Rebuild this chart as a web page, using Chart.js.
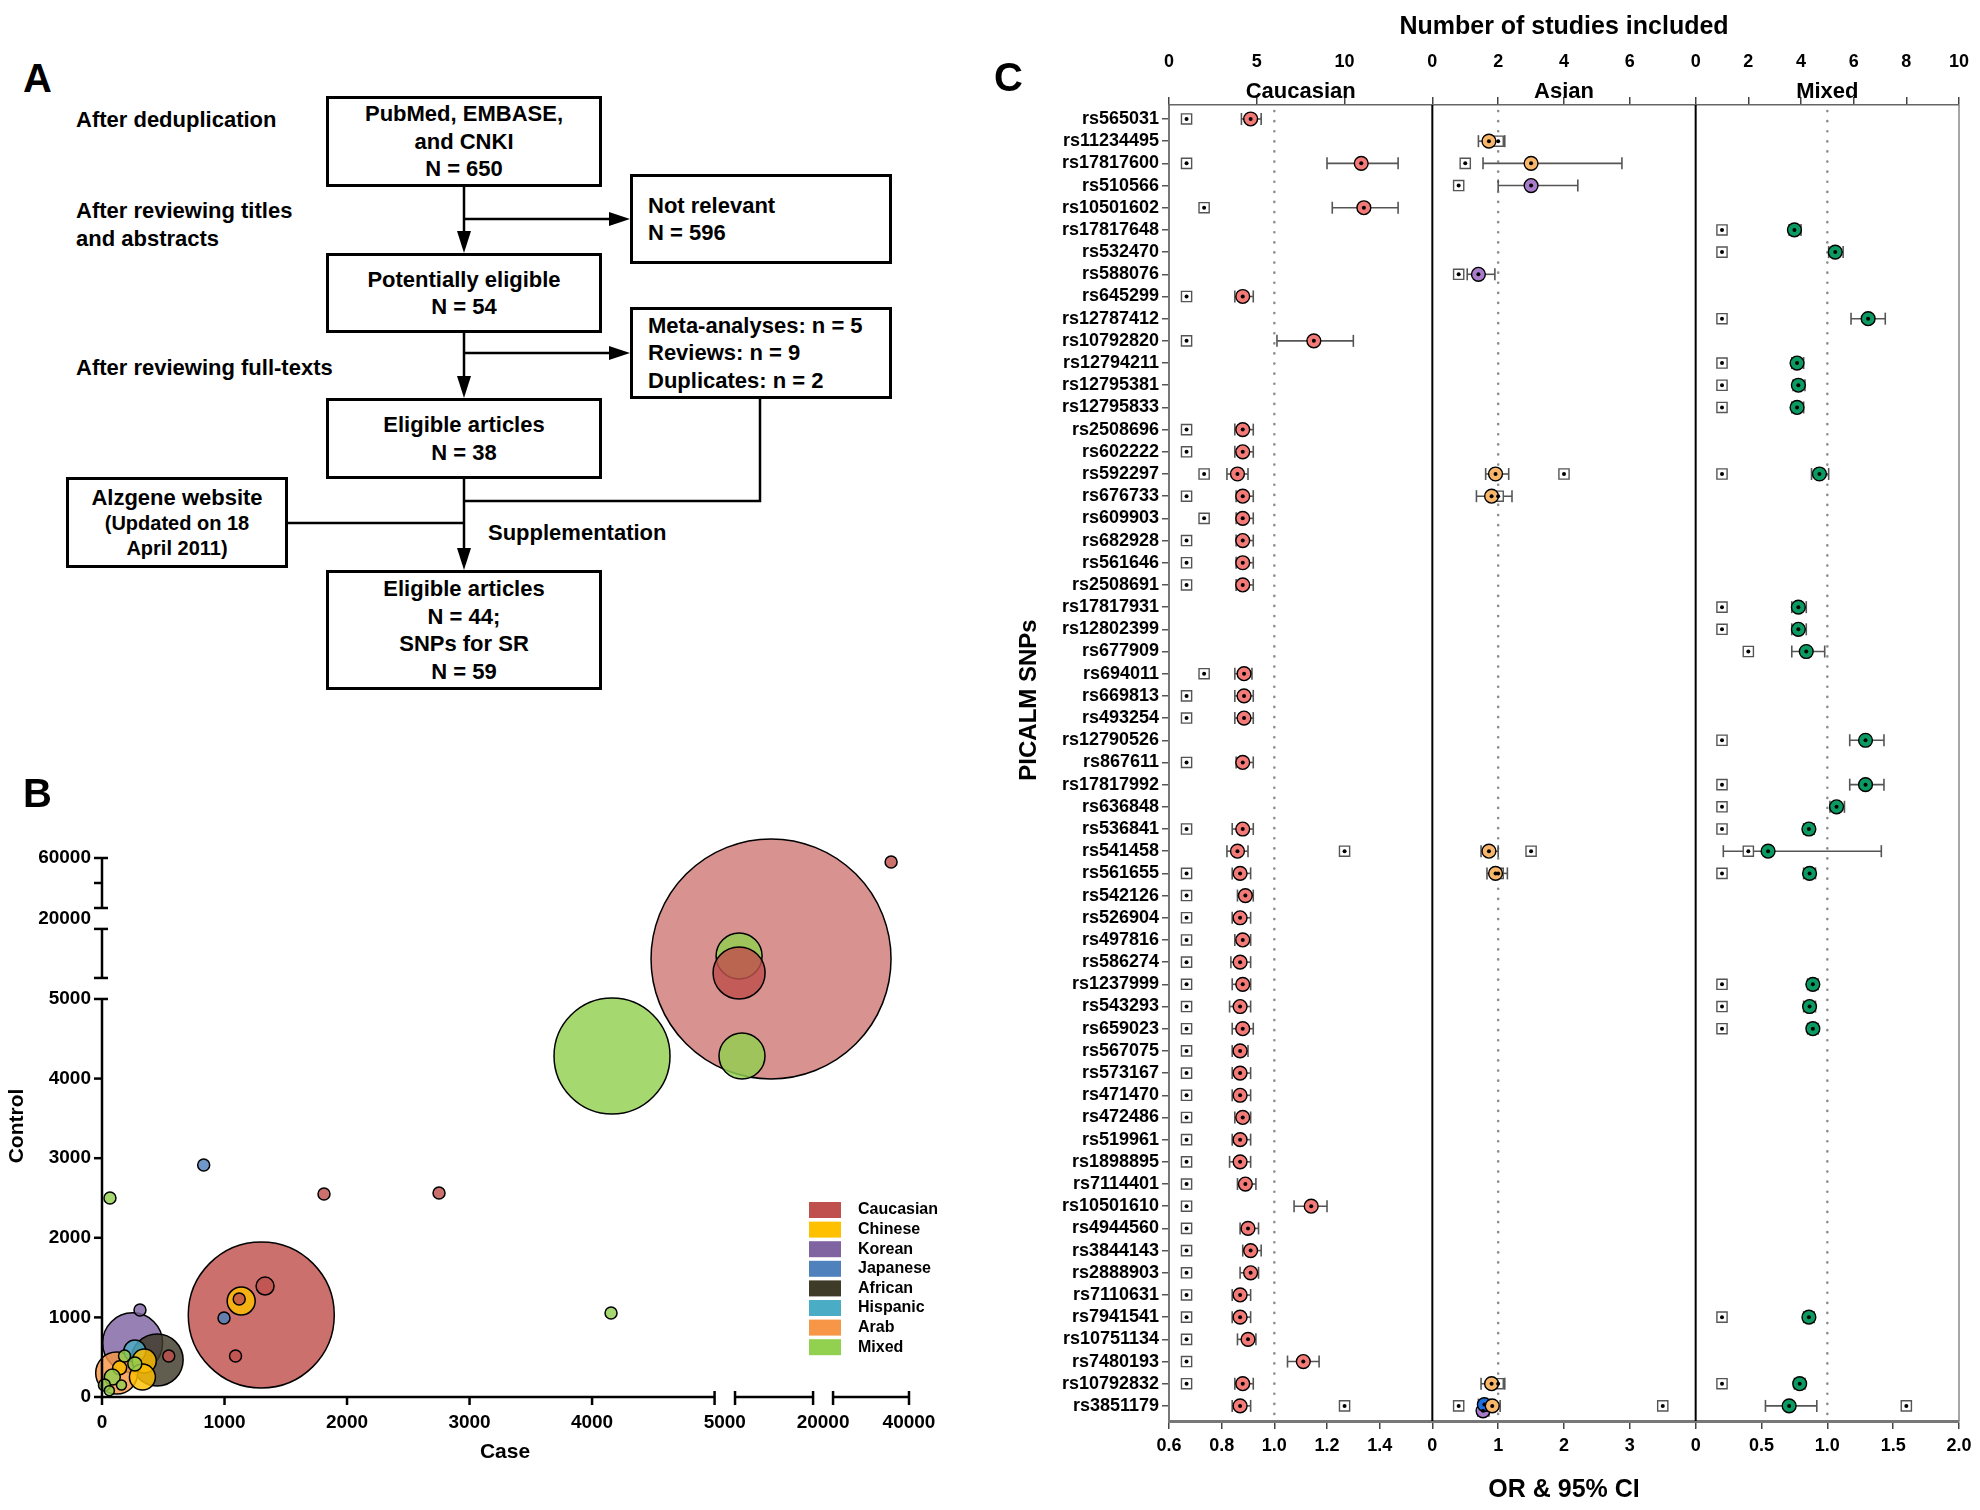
<!DOCTYPE html>
<html>
<head>
<meta charset="utf-8">
<title>PICALM SNPs</title>
<script src="https://cdn.jsdelivr.net/npm/chart.js@4.4.1/dist/chart.umd.min.js"></script>
<style>
  html, body { margin: 0; padding: 0; background: #fff; }
  body { position: relative; width: 1980px; height: 1510px; overflow: hidden;
         font-family: "Liberation Sans", Arial, sans-serif; font-weight: bold; color: #000; }
  .letter { position: absolute; font-size: 40px; line-height: 40px; z-index: 3; }
  .box { position: absolute; box-sizing: border-box; border: 3px solid #000; display: flex;
         flex-direction: column; justify-content: center; font-size: 22px; line-height: 27.5px; white-space: nowrap; }
  .box.c { align-items: center; text-align: center; }
  .box.l { padding-left: 15px; }
  .small { font-size: 20px; line-height: 25px; }
  .note { position: absolute; font-size: 22px; line-height: 27.5px; white-space: nowrap; }
  svg.flow { position: absolute; left: 0; top: 0; }
  canvas { position: absolute; }
  #chartB { left: 0; top: 760px; }
  #chartC { left: 980px; top: 0; }
</style>
</head>
<body>

<div class="letter" style="left:23px;top:58px">A</div>
<div class="letter" style="left:23px;top:773px">B</div>
<div class="letter" style="left:994px;top:57px">C</div>

<!-- panel A: flow of study selection -->
<svg class="flow" width="960" height="720">
  <g stroke="#000" stroke-width="2.5" fill="none">
    <line x1="464" y1="187" x2="464" y2="236"/>
    <line x1="464" y1="219" x2="612" y2="219"/>
    <line x1="464" y1="333" x2="464" y2="381"/>
    <line x1="464" y1="353" x2="612" y2="353"/>
    <line x1="464" y1="479" x2="464" y2="553"/>
    <polyline points="760,399 760,501 464,501"/>
    <line x1="288" y1="523" x2="464" y2="523"/>
  </g>
  <g fill="#000">
    <polygon points="464,253 457,231 471,231"/>
    <polygon points="630,219 609,212 609,226"/>
    <polygon points="464,398 457,376 471,376"/>
    <polygon points="630,353 609,346 609,360"/>
    <polygon points="464,570 457,548 471,548"/>
  </g>
</svg>

<div class="note" style="left:76px;top:106px">After deduplication</div>
<div class="note" style="left:76px;top:197px">After reviewing titles<br>and abstracts</div>
<div class="note" style="left:76px;top:354px">After reviewing full-texts</div>
<div class="note" style="left:488px;top:519px">Supplementation</div>

<div class="box c" style="left:326px;top:96px;width:276px;height:91px">
  <div>PubMed, EMBASE,</div><div>and CNKI</div><div>N = 650</div>
</div>
<div class="box l" style="left:630px;top:174px;width:262px;height:90px">
  <div>Not relevant</div><div>N = 596</div>
</div>
<div class="box c" style="left:326px;top:253px;width:276px;height:80px">
  <div>Potentially eligible</div><div>N = 54</div>
</div>
<div class="box l" style="left:630px;top:307px;width:262px;height:92px">
  <div>Meta-analyses: n = 5</div><div>Reviews: n = 9</div><div>Duplicates: n = 2</div>
</div>
<div class="box c" style="left:326px;top:398px;width:276px;height:81px">
  <div>Eligible articles</div><div>N = 38</div>
</div>
<div class="box c" style="left:66px;top:477px;width:222px;height:91px">
  <div>Alzgene website</div><div class="small">(Updated on 18</div><div class="small">April 2011)</div>
</div>
<div class="box c" style="left:326px;top:570px;width:276px;height:120px">
  <div>Eligible articles</div><div>N = 44;</div><div>SNPs for SR</div><div>N = 59</div>
</div>

<canvas id="chartB" width="960" height="750"></canvas>
<canvas id="chartC" width="1000" height="1510"></canvas>

<script>
// ---------- panel B: case / control sizes by ethnicity ----------
const B_GROUPS = ['Caucasian', 'Chinese', 'Korean', 'Japanese', 'African', 'Hispanic', 'Arab', 'Mixed'];
// drawn back to front
const B_GROUP = ['Caucasian', 'Mixed', 'Caucasian', 'Mixed', 'Caucasian', 'Mixed', 'Korean', 'African',
  'Arab', 'Hispanic', 'Chinese', 'Chinese', 'Chinese', 'Chinese', 'Caucasian', 'Caucasian',
  'Caucasian', 'Japanese', 'Japanese', 'Mixed', 'Caucasian', 'Caucasian', 'Mixed', 'Korean',
  'Caucasian', 'Mixed', 'Mixed', 'Mixed', 'Mixed', 'Mixed', 'Mixed', 'Caucasian'];
const B_CASE = [11920, 4163, 1300, 5780, 5780, 6340, 250, 450,
  120, 268, 345, 330, 144, 1136, 1120, 1331,
  1090, 996, 830, 65, 1812, 2751, 4155, 310,
  545, 184, 268, 84, 20, 159, 60, 35290];
const B_CONTROL = [10820, 4284, 1030, 11720, 6530, 4284, 680, 465,
  300, 578, 452, 250, 366, 1206, 1230, 1394,
  515, 992, 2915, 2500, 2550, 2563, 1055, 1093,
  515, 515, 415, 250, 150, 150, 80, 56800];
const B_RADIUS = [120, 58, 73, 23, 26, 23, 30, 26,
  21, 11, 12, 13, 7, 14, 6, 9,
  6, 6, 6, 6, 6, 6, 6, 6,
  6, 6, 7, 8, 6, 5, 5, 6];
const B_X_TICKS = [0, 1000, 2000, 3000, 4000, 5000, 20000, 40000];
const B_Y_TICKS = [0, 1000, 2000, 3000, 4000, 5000, 20000, 40000, 60000];
const B_Y_LABELS = ['0', '1000', '2000', '3000', '4000', '5000', '20000', '', '60000'];

// ---------- panel C: PICALM SNPs ----------
const SNPS = ['rs565031', 'rs11234495', 'rs17817600', 'rs510566', 'rs10501602', 'rs17817648', 'rs532470',
  'rs588076', 'rs645299', 'rs12787412', 'rs10792820', 'rs12794211', 'rs12795381', 'rs12795833',
  'rs2508696', 'rs602222', 'rs592297', 'rs676733', 'rs609903', 'rs682928', 'rs561646', 'rs2508691',
  'rs17817931', 'rs12802399', 'rs677909', 'rs694011', 'rs669813', 'rs493254', 'rs12790526',
  'rs867611', 'rs17817992', 'rs636848', 'rs536841', 'rs541458', 'rs561655', 'rs542126', 'rs526904',
  'rs497816', 'rs586274', 'rs1237999', 'rs543293', 'rs659023', 'rs567075', 'rs573167', 'rs471470',
  'rs472486', 'rs519961', 'rs1898895', 'rs7114401', 'rs10501610', 'rs4944560', 'rs3844143',
  'rs2888903', 'rs7110631', 'rs7941541', 'rs10751134', 'rs7480193', 'rs10792832', 'rs3851179'];

// Caucasian (one value per SNP, null = not studied)
const CAU_OR = [0.91, null, 1.33, null, 1.34, null, null, null, 0.88, null, 1.15, null, null, null,
  0.88, 0.88, 0.86, 0.88, 0.88, 0.88, 0.88, 0.88, null, null, null, 0.885, 0.885, 0.885, null,
  0.88, null, null, 0.88, 0.86, 0.87, 0.89, 0.87, 0.88, 0.87, 0.88, 0.87, 0.88, 0.87, 0.87, 0.87,
  0.88, 0.87, 0.87, 0.89, 1.14, 0.90, 0.91, 0.91, 0.87, 0.87, 0.90, 1.11, 0.88, 0.87];
const CAU_LO = [0.875, null, 1.20, null, 1.22, null, null, null, 0.85, null, 1.01, null, null, null,
  0.85, 0.85, 0.82, 0.855, 0.855, 0.855, 0.855, 0.855, null, null, null, 0.85, 0.85, 0.85, null,
  0.855, null, null, 0.84, 0.82, 0.84, 0.86, 0.84, 0.85, 0.835, 0.84, 0.83, 0.84, 0.84, 0.84, 0.84,
  0.85, 0.84, 0.83, 0.86, 1.075, 0.87, 0.88, 0.87, 0.84, 0.84, 0.86, 1.05, 0.85, 0.84];
const CAU_HI = [0.95, null, 1.47, null, 1.47, null, null, null, 0.92, null, 1.30, null, null, null,
  0.92, 0.92, 0.90, 0.92, 0.92, 0.92, 0.92, 0.92, null, null, null, 0.915, 0.92, 0.92, null,
  0.92, null, null, 0.92, 0.90, 0.91, 0.92, 0.91, 0.91, 0.91, 0.91, 0.91, 0.92, 0.90, 0.91, 0.91,
  0.91, 0.91, 0.91, 0.93, 1.20, 0.94, 0.95, 0.94, 0.91, 0.91, 0.93, 1.17, 0.92, 0.91];
const CAU_N = [1, null, 1, null, 2, null, null, null, 1, null, 1, null, null, null,
  1, 1, 2, 1, 2, 1, 1, 1, null, null, null, 2, 1, 1, null,
  1, null, null, 1, 10, 1, 1, 1, 1, 1, 1, 1, 1, 1, 1, 1,
  1, 1, 1, 1, 1, 1, 1, 1, 1, 1, 1, 1, 1, 10];

// Mixed
const MIX_OR = [null, null, null, null, null, 0.75, 1.06, null, null, 1.31, null, 0.77, 0.78, 0.77,
  null, null, 0.94, null, null, null, null, null, 0.78, 0.78, 0.84, null, null, null, 1.29,
  null, 1.29, 1.07, 0.86, 0.55, 0.865, null, null, null, null, 0.89, 0.865, 0.89, null, null, null,
  null, null, null, null, null, null, null, null, null, 0.86, null, null, 0.79, 0.71];
const MIX_LO = [null, null, null, null, null, 0.71, 1.01, null, null, 1.18, null, 0.73, 0.74, 0.73,
  null, null, 0.88, null, null, null, null, null, 0.73, 0.73, 0.73, null, null, null, 1.17,
  null, 1.17, 1.02, 0.82, 0.21, 0.82, null, null, null, null, 0.85, 0.82, 0.85, null, null, null,
  null, null, null, null, null, null, null, null, null, 0.82, null, null, 0.75, 0.53];
const MIX_HI = [null, null, null, null, null, 0.80, 1.12, null, null, 1.44, null, 0.82, 0.83, 0.82,
  null, null, 1.01, null, null, null, null, null, 0.84, 0.84, 0.98, null, null, null, 1.43,
  null, 1.43, 1.13, 0.90, 1.41, 0.91, null, null, null, null, 0.93, 0.91, 0.93, null, null, null,
  null, null, null, null, null, null, null, null, null, 0.90, null, null, 0.83, 0.92];
const MIX_N = [null, null, null, null, null, 1, 1, null, null, 1, null, 1, 1, 1,
  null, null, 1, null, null, null, null, null, 1, 1, 2, null, null, null, 1,
  null, 1, 1, 1, 2, 1, null, null, null, null, 1, 1, 1, null, null, null,
  null, null, null, null, null, null, null, null, null, 1, null, null, 1, 8];

// Asian (listed per estimate, several groups can share a SNP)
const ASN_SNP = ['rs11234495', 'rs17817600', 'rs510566', 'rs588076', 'rs592297', 'rs676733',
  'rs541458', 'rs561655', 'rs10792832', 'rs3851179', 'rs3851179', 'rs3851179'];
const ASN_GROUP = ['Chinese', 'Chinese', 'Korean', 'Korean', 'Chinese', 'Chinese',
  'Chinese', 'Chinese', 'Chinese', 'Korean', 'Japanese', 'Chinese'];
const ASN_OR = [0.86, 1.50, 1.50, 0.70, 0.96, 0.90, 0.86, 0.96, 0.90, 0.77, 0.79, 0.91];
const ASN_LO = [0.70, 0.77, 1.00, 0.53, 0.81, 0.67, 0.74, 0.83, 0.74, 0.69, 0.70, 0.80];
const ASN_HI = [1.10, 2.88, 2.21, 0.95, 1.16, 1.21, 1.00, 1.14, 1.10, 0.86, 0.88, 1.03];
const ASN_N_SNP = ['rs11234495', 'rs17817600', 'rs510566', 'rs588076', 'rs592297', 'rs676733',
  'rs541458', 'rs561655', 'rs10792832', 'rs3851179', 'rs3851179'];
const ASN_N = [2, 1, 0.8, 0.8, 4, 2, 3, 2, 2, 0.8, 7];

// axis ticks of panel C
const CAU_OR_TICKS = [0.6, 0.8, 1.0, 1.2, 1.4];
const ASN_OR_TICKS = [0, 1, 2, 3];
const MIX_OR_TICKS = [0, 0.5, 1.0, 1.5, 2.0];
const MIX_OR_LABELS = ['0', '0.5', '1.0', '1.5', '2.0'];
const CAU_N_TICKS = [0, 5, 10];
const ASN_N_TICKS = [0, 2, 4, 6];
const MIX_N_TICKS = [0, 2, 4, 6, 8, 10];

// ---------- styles / layout ----------
const FONT = '"Liberation Sans", Arial, sans-serif';
Chart.defaults.font.family = FONT;
Chart.defaults.font.weight = 'bold';
Chart.defaults.color = '#000';

const B_COLORS = {
  Caucasian: '#C0504D', Chinese: '#FFC000', Korean: '#8064A2', Japanese: '#4F81BD',
  African: '#3E3B28', Hispanic: '#4BACC6', Arab: '#F79646', Mixed: '#92D050'
};
const ASN_COLORS = { Chinese: '#F8B66B', Korean: '#A97CCB', Japanese: '#1E6FE0' };
const ASN_DODGE = { Chinese: 0, Korean: 0.22, Japanese: -0.06 };

function withAlpha(hex, a) {
  const n = parseInt(hex.slice(1), 16);
  return `rgba(${n >> 16},${(n >> 8) & 255},${n & 255},${a})`;
}

// broken axes of panel B: segment start and length in axis units
const X_BREAKS = [0, 5000, 20000, 40000];
const X_SEG = [[0, 5], [5.167, 0.637], [5.967, 0.62]];
const Y_BREAKS = [0, 5000, 20000, 60000];
const Y_SEG = [[0, 5], [5.264, 0.616], [6.143, 0.628]];

function makeBroken(breaks, seg) {
  return v => {
    for (let k = 0; k < seg.length; k++) {
      const lo = breaks[k], hi = breaks[k + 1];
      if (v <= hi || k === seg.length - 1) return seg[k][0] + (v - lo) / (hi - lo) * seg[k][1];
    }
  };
}
const bx = makeBroken(X_BREAKS, X_SEG);
const by = makeBroken(Y_BREAKS, Y_SEG);

function labelPos(v, breaks, seg, gapLabels) {
  const k = breaks.indexOf(v);
  if (gapLabels.includes(v) && k > 0 && k < seg.length) {
    return (seg[k - 1][0] + seg[k - 1][1] + seg[k][0]) / 2;
  }
  return makeBroken(breaks, seg)(v);
}

function line(ctx, x1, y1, x2, y2) {
  ctx.beginPath(); ctx.moveTo(x1, y1); ctx.lineTo(x2, y2); ctx.stroke();
}

// fixed axis boxes, no automatic label padding
const fixH = h => s => { s.height = h; s.paddingLeft = 0; s.paddingRight = 0; };
const fixW = w => s => { s.width = w; s.paddingTop = 0; s.paddingBottom = 0; };

const bAxes = {
  id: 'bAxes',
  afterDatasetsDraw(chart) {
    const { ctx, chartArea: a, scales: { x, y } } = chart;
    ctx.save();
    ctx.strokeStyle = '#000';
    ctx.lineWidth = 2.5;
    X_SEG.forEach(([s0, len], k) => {
      const p0 = x.getPixelForValue(s0), p1 = x.getPixelForValue(s0 + len);
      line(ctx, p0, a.bottom, p1, a.bottom);
      if (k === 0) line(ctx, p0, a.bottom, p0, a.bottom + 8);
      else line(ctx, p0, a.bottom - 6, p0, a.bottom + 8);
      line(ctx, p1, a.bottom - 6, p1, a.bottom + 8);
      B_X_TICKS.forEach(v => {
        if (v > X_BREAKS[k] && v < X_BREAKS[k + 1]) {
          const px = x.getPixelForValue(bx(v));
          line(ctx, px, a.bottom, px, a.bottom + 8);
        }
      });
    });
    Y_SEG.forEach(([s0, len], k) => {
      const p0 = y.getPixelForValue(s0), p1 = y.getPixelForValue(s0 + len);
      line(ctx, a.left, p0, a.left, p1);
      if (k === 0) line(ctx, a.left - 8, p0, a.left, p0);
      else line(ctx, a.left - 8, p0, a.left + 6, p0);
      line(ctx, a.left - 8, p1, a.left + 6, p1);
      B_Y_TICKS.forEach(v => {
        if (v > Y_BREAKS[k] && v < Y_BREAKS[k + 1]) {
          const py = y.getPixelForValue(by(v));
          line(ctx, a.left - 8, py, a.left, py);
        }
      });
    });
    ctx.restore();
  },
  afterDraw(chart) {
    const { ctx } = chart;
    ctx.save();
    ctx.fillStyle = '#000';
    ctx.textAlign = 'center';
    ctx.textBaseline = 'middle';
    ctx.font = `bold 21px ${FONT}`;
    ctx.fillText('Case', 505, 692);
    ctx.translate(17, 366);
    ctx.rotate(-Math.PI / 2);
    ctx.fillText('Control', 0, 0);
    ctx.restore();

    ctx.save();
    ctx.font = `bold 16px ${FONT}`;
    ctx.textBaseline = 'middle';
    B_GROUPS.forEach((g, k) => {
      const yy = 450 + k * 19.6;
      ctx.fillStyle = B_COLORS[g];
      ctx.fillRect(809, yy - 8, 32, 16);
      ctx.fillStyle = '#000';
      ctx.fillText(g, 858, yy);
    });
    ctx.restore();
  }
};

new Chart(document.getElementById('chartB'), {
  type: 'bubble',
  data: {
    datasets: [{
      data: B_CASE.map((c, i) => ({ x: bx(c), y: by(B_CONTROL[i]), r: B_RADIUS[i] })),
      backgroundColor: B_GROUP.map((g, i) => withAlpha(B_COLORS[g], B_RADIUS[i] >= 100 ? 0.62 : 0.82)),
      borderColor: '#000',
      borderWidth: 1.5,
      clip: false
    }]
  },
  options: {
    responsive: false,
    animation: false,
    layout: { autoPadding: false, padding: { top: 98, right: 51, left: 0, bottom: 0 } },
    plugins: { legend: { display: false }, tooltip: { enabled: false } },
    scales: {
      x: {
        type: 'linear', min: 0, max: X_SEG[2][0] + X_SEG[2][1],
        afterBuildTicks: s => { s.ticks = B_X_TICKS.map(v => ({ value: labelPos(v, X_BREAKS, X_SEG, [5000, 20000]) })); },
        afterFit: fixH(113),
        ticks: { autoSkip: false, maxRotation: 0, padding: 14, font: { size: 19, weight: 'bold' },
                 callback: (v, i) => String(B_X_TICKS[i]) },
        grid: { display: false, drawTicks: false },
        border: { display: false }
      },
      y: {
        type: 'linear', min: 0, max: Y_SEG[2][0] + Y_SEG[2][1],
        afterBuildTicks: s => { s.ticks = B_Y_TICKS.map(v => ({ value: labelPos(v, Y_BREAKS, Y_SEG, [20000]) })); },
        afterFit: fixW(102),
        ticks: { autoSkip: false, padding: 11, font: { size: 19, weight: 'bold' },
                 callback: (v, i) => B_Y_LABELS[i] },
        grid: { display: false, drawTicks: false },
        border: { display: false }
      }
    }
  },
  plugins: [bAxes]
});

// ---------- panel C ----------
const asnRow = k => {
  const s = ASN_SNP[k];
  const multi = ASN_SNP.filter(t => t === s).length > 1;
  return SNPS.indexOf(s) + (multi ? ASN_DODGE[ASN_GROUP[k]] : 0);
};

const rowsOf = vals => vals.map((v, i) => (v == null ? null : { x: v, y: i })).filter(Boolean);

const whiskers = [];
SNPS.forEach((s, i) => {
  if (CAU_OR[i] != null) whiskers.push({ axis: 'xCau', lo: CAU_LO[i], hi: CAU_HI[i], row: i });
  if (MIX_OR[i] != null) whiskers.push({ axis: 'xMix', lo: MIX_LO[i], hi: MIX_HI[i], row: i });
});
ASN_SNP.forEach((s, k) => whiskers.push({ axis: 'xAsn', lo: ASN_LO[k], hi: ASN_HI[k], row: asnRow(k) }));

const forest = {
  id: 'forest',
  beforeDatasetsDraw(chart) {
    const { ctx, chartArea: a, scales } = chart;
    ctx.save();
    ctx.strokeStyle = '#8d8d8d';
    ctx.lineWidth = 2.6;
    ctx.lineCap = 'round';
    ctx.setLineDash([0.1, 10]);
    ['xCau', 'xAsn', 'xMix'].forEach(id => {
      const x = scales[id].getPixelForValue(1);
      line(ctx, x, a.top + 6, x, a.bottom - 2);
    });
    ctx.setLineDash([]);
    ctx.lineCap = 'butt';
    ctx.strokeStyle = '#555';
    ctx.lineWidth = 1.6;
    whiskers.forEach(w => {
      const sc = scales[w.axis];
      const y = scales.y.getPixelForValue(w.row);
      const x1 = sc.getPixelForValue(w.lo), x2 = sc.getPixelForValue(w.hi);
      line(ctx, x1, y, x2, y);
      line(ctx, x1, y - 6, x1, y + 6);
      line(ctx, x2, y - 6, x2, y + 6);
    });
    ctx.restore();
  },
  afterDatasetsDraw(chart) {
    const { ctx } = chart;
    ctx.save();
    ctx.fillStyle = '#000';
    chart.data.datasets.forEach((ds, i) => {
      chart.getDatasetMeta(i).data.forEach(el => {
        ctx.beginPath(); ctx.arc(el.x, el.y, 2, 0, Math.PI * 2); ctx.fill();
      });
    });
    ctx.restore();
  },
  afterDraw(chart) {
    const { ctx, chartArea: a, scales } = chart;
    ctx.save();
    ctx.strokeStyle = '#000';
    ctx.lineWidth = 2;
    [scales.xAsn.left, scales.xMix.left].forEach(x => line(ctx, x, a.top, x, a.bottom));
    ctx.strokeStyle = '#888';
    ctx.lineWidth = 1.5;
    line(ctx, a.right, a.top, a.right, a.bottom);

    ctx.fillStyle = '#000';
    ctx.textAlign = 'center';
    ctx.textBaseline = 'middle';
    const cx = (a.left + a.right) / 2;
    ctx.font = `bold 25px ${FONT}`;
    ctx.fillText('Number of studies included', cx, 27);
    ctx.fillText('OR & 95% CI', cx, 1490);
    ctx.font = `bold 22px ${FONT}`;
    [['tCau', 'Caucasian'], ['tAsn', 'Asian'], ['tMix', 'Mixed']].forEach(([id, name]) => {
      const s = scales[id];
      ctx.fillText(name, (s.left + s.right) / 2, 92);
    });
    ctx.font = `bold 24px ${FONT}`;
    ctx.translate(49, 700);
    ctx.rotate(-Math.PI / 2);
    ctx.fillText('PICALM SNPs', 0, 0);
    ctx.restore();
  }
};

const tickFont = { size: 18, weight: 'bold' };
function orAxis(min, max, ticks, labels) {
  return {
    type: 'linear', position: 'bottom', stack: 'or', stackWeight: 1, min, max,
    afterBuildTicks: s => { s.ticks = ticks.map(v => ({ value: v })); },
    afterFit: fixH(89),
    ticks: { autoSkip: false, maxRotation: 0, padding: 6, font: tickFont, callback: (v, i) => labels[i] },
    grid: { drawOnChartArea: false, tickLength: 8, color: '#444', lineWidth: 1.5 },
    border: { color: '#777', width: 3 }
  };
}
function nAxis(max, ticks) {
  return {
    type: 'linear', position: 'top', stack: 'n', stackWeight: 1, min: 0, max,
    afterBuildTicks: s => { s.ticks = ticks.map(v => ({ value: v })); },
    afterFit: fixH(105),
    ticks: { autoSkip: false, maxRotation: 0, padding: 24, font: tickFont, callback: v => String(v) },
    grid: { drawOnChartArea: false, tickLength: 8, color: '#444', lineWidth: 1.5 },
    border: { color: '#666', width: 1.5 }
  };
}

const circle = (data, axis, color) => ({
  data, xAxisID: axis, yAxisID: 'y', order: 1,
  pointStyle: 'circle', pointRadius: 6.9, pointBackgroundColor: color,
  pointBorderColor: '#000', pointBorderWidth: 1.4
});
const square = (data, axis) => ({
  data, xAxisID: axis, yAxisID: 'y', order: 2,
  pointStyle: 'rect', pointRadius: 7.2, pointBackgroundColor: '#fff',
  pointBorderColor: '#555', pointBorderWidth: 1.4
});

new Chart(document.getElementById('chartC'), {
  type: 'scatter',
  data: {
    datasets: [
      circle(rowsOf(CAU_OR), 'xCau', '#F47A77'),
      square(rowsOf(CAU_N), 'tCau'),
      circle(ASN_OR.map((v, k) => ({ x: v, y: asnRow(k) })), 'xAsn', ASN_GROUP.map(g => ASN_COLORS[g])),
      square(ASN_N.map((v, k) => ({ x: v, y: SNPS.indexOf(ASN_N_SNP[k]) })), 'tAsn'),
      circle(rowsOf(MIX_OR), 'xMix', '#0B9A61'),
      square(rowsOf(MIX_N), 'tMix')
    ]
  },
  options: {
    responsive: false,
    animation: false,
    layout: { autoPadding: false, padding: { top: 0, right: 21, left: 0, bottom: 0 } },
    plugins: { legend: { display: false }, tooltip: { enabled: false } },
    scales: {
      y: {
        type: 'linear', reverse: true, min: -0.63, max: 58.68,
        afterBuildTicks: s => { s.ticks = SNPS.map((_, i) => ({ value: i })); },
        afterFit: fixW(189),
        ticks: { autoSkip: false, padding: 3, font: tickFont, callback: (v, i) => SNPS[i] },
        grid: { drawOnChartArea: false, tickLength: 7, color: '#555', lineWidth: 1.5 },
        border: { color: '#777', width: 2 }
      },
      xCau: orAxis(0.6, 1.6, CAU_OR_TICKS, CAU_OR_TICKS.map(v => v.toFixed(1))),
      xAsn: orAxis(0, 4, ASN_OR_TICKS, ASN_OR_TICKS.map(String)),
      xMix: orAxis(0, 2, MIX_OR_TICKS, MIX_OR_LABELS),
      // top boxes are laid out in reverse order
      tMix: nAxis(10, MIX_N_TICKS),
      tAsn: nAxis(8, ASN_N_TICKS),
      tCau: nAxis(15, CAU_N_TICKS)
    }
  },
  plugins: [forest]
});
</script>
</body>
</html>
